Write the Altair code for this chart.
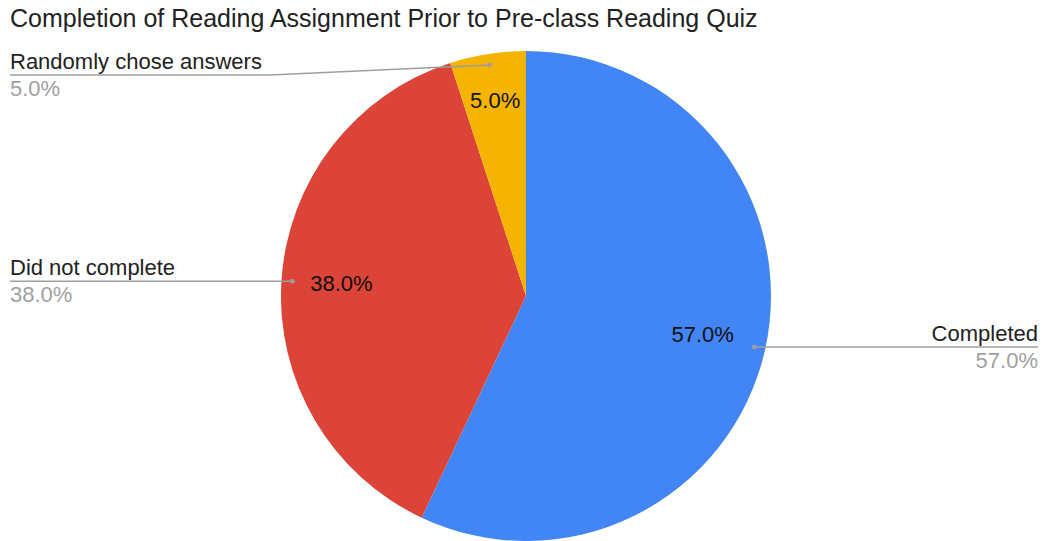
import math
import altair as alt
import pandas as pd

# ---- data ----
categories = ["Completed", "Did not complete", "Randomly chose answers"]
values = [57.0, 38.0, 5.0]
colors = ["#4285F4", "#DB4437", "#F4B400"]
title_text = "Completion of Reading Assignment Prior to Pre-class Reading Quiz"

# ---- layout (pixels, chart coords) ----
W, H = 1031, 533
CX, CY, R = 518, 288, 245
FONT = "Liberation Sans"
inner_label_r = [181, 185, 197]
dot_r = 234
label_side = ["right", "left", "left"]
line_y_override = [None, None, 67]
elbow_x = [None, None, 262]
LEFT_X, RIGHT_X = 2, 1030

total = sum(values)
starts = [sum(values[:i]) for i in range(len(values))]
df = pd.DataFrame({
    "cat": categories,
    "value": values,
    "start": starts,
    "end": [s + v for s, v in zip(starts, values)],
    "mid": [s + v / 2 for s, v in zip(starts, values)],
    "pct": [f"{v / total * 100:.1f}%" for v in values],
    "lr": inner_label_r,
})

# derive annotation geometry from the data
lines, dots, names, pcts = [], [], [], []
for i, (c, v) in enumerate(zip(categories, values)):
    mid = (starts[i] + v / 2) / total * 2 * math.pi
    dx = CX + dot_r * math.sin(mid)
    dy = CY - dot_r * math.cos(mid)
    dots.append({"x": dx, "y": dy})
    ly = line_y_override[i] if line_y_override[i] is not None else dy
    ex = LEFT_X if label_side[i] == "left" else RIGHT_X
    pts = [(ex, ly)]
    if elbow_x[i] is not None:
        pts.append((elbow_x[i], ly))
    pts.append((dx, dy))
    for k, (px_, py_) in enumerate(pts):
        lines.append({"g": i, "o": k, "x": px_, "y": py_})
    al = "left" if label_side[i] == "left" else "right"
    names.append({"x": ex, "y": ly - 6, "t": c, "al": al})
    pcts.append({"x": ex, "y": ly + 21, "t": f"{v / total * 100:.1f}%", "al": al})

lines_df = pd.DataFrame(lines)
dots_df = pd.DataFrame(dots)
names_df = pd.DataFrame(names)
pcts_df = pd.DataFrame(pcts)

px = lambda f: alt.X(f, type="quantitative", scale=None, axis=None)
py = lambda f: alt.Y(f, type="quantitative", scale=None, axis=None)

tscale = alt.Scale(domain=[0, total], range=[0, 2 * math.pi])

pie = alt.Chart(df).mark_arc(radius=R).encode(
    theta=alt.Theta("start:Q", scale=tscale, stack=None),
    theta2="end:Q",
    x=alt.value(CX),
    y=alt.value(CY),
    color=alt.Color("cat:N", scale=alt.Scale(domain=categories, range=colors), legend=None),
)

inner = alt.Chart(df).mark_text(font=FONT, fontSize=22, color="#111111", baseline="middle", align="center").encode(
    theta=alt.Theta("mid:Q", scale=tscale, stack=None),
    radius=alt.Radius("lr:Q", scale=None),
    x=alt.value(CX),
    y=alt.value(CY),
    text="pct:N",
)

leader = alt.Chart(lines_df).mark_line(color="#9e9e9e", strokeWidth=1.5).encode(
    x=px("x"), y=py("y"), detail="g:N", order="o:Q"
)

dot = alt.Chart(dots_df).mark_circle(color="#9e9e9e", opacity=1, size=22).encode(x=px("x"), y=py("y"))

def texts(d, color, align):
    return alt.Chart(d).mark_text(
        font=FONT, fontSize=22, color=color, align=align, baseline="alphabetic"
    ).encode(x=px("x"), y=py("y"), text="t:N")

name_l = texts(names_df[names_df.al == "left"], "#222222", "left")
name_r = texts(names_df[names_df.al == "right"], "#222222", "right")
pct_l = texts(pcts_df[pcts_df.al == "left"], "#a0a0a0", "left")
pct_r = texts(pcts_df[pcts_df.al == "right"], "#a0a0a0", "right")

title = alt.Chart(pd.DataFrame({"t": [title_text]})).mark_text(
    font=FONT, fontSize=25, color="#222222", align="left", baseline="alphabetic"
).encode(x=alt.value(2), y=alt.value(19), text="t:N")

chart = alt.layer(pie, inner, leader, dot, name_l, name_r, pct_l, pct_r, title).properties(
    width=W, height=H, autosize=alt.AutoSizeParams(type="none"), padding=0
).configure_view(stroke=None)

chart.save("out.html", embed_options={"renderer": "svg", "actions": False})
